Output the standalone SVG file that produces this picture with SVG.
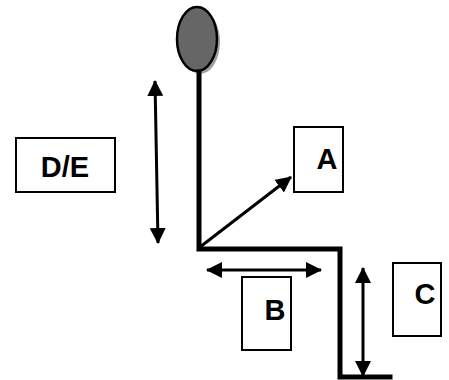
<svg xmlns="http://www.w3.org/2000/svg" width="449" height="380" viewBox="0 0 449 380">
  <style>
    .frame { fill: #fff; stroke: #000; stroke-width: 2; }
    .label { font-family: "Liberation Sans", Arial, sans-serif; font-weight: bold; font-size: 29px; fill: #000; text-anchor: middle; }
    .body { fill: none; stroke: #000; stroke-width: 5; stroke-linecap: square; stroke-linejoin: miter; }
    .arrow { fill: none; stroke: #000; stroke-width: 3; }
  </style>
  <defs>
    <marker id="head" markerUnits="userSpaceOnUse" markerWidth="16" markerHeight="16" viewBox="0 0 16 16" refX="15" refY="8" orient="auto-start-reverse">
      <path d="M0,0 L16,8 L0,16 Z" fill="#000"/>
    </marker>
  </defs>
  <rect width="449" height="380" fill="#fff"/>

  <!-- figure: head and bent body -->
  <g id="figure">
    <ellipse cx="200" cy="42" rx="20" ry="32" fill="#a0a0a0"/>
    <ellipse cx="197" cy="39" rx="20" ry="32" fill="#666" stroke="#000" stroke-width="2.5"/>
    <path class="body" d="M199,72 L199,249 L340,249 L340,377 L390,377"/>
  </g>

  <!-- dimension arrows -->
  <g id="connectors">
    <line class="arrow" x1="200" y1="247" x2="291" y2="177" marker-end="url(#head)"/>
    <line class="arrow" x1="155" y1="81" x2="158" y2="243" marker-start="url(#head)" marker-end="url(#head)"/>
    <line class="arrow" x1="207" y1="270" x2="321" y2="270" marker-start="url(#head)" marker-end="url(#head)"/>
    <line class="arrow" x1="363" y1="268" x2="363" y2="376" marker-start="url(#head)" marker-end="url(#head)"/>
  </g>

  <g id="box-de">
    <rect class="frame" x="16" y="138" width="99" height="54"/>
    <text class="label" x="65" y="177">D/E</text>
  </g>
  <g id="box-a">
    <rect class="frame" x="294" y="127" width="49" height="65"/>
    <text class="label" x="327" y="169">A</text>
  </g>
  <g id="box-b">
    <rect class="frame" x="242" y="277" width="49" height="73"/>
    <text class="label" x="275" y="320">B</text>
  </g>
  <g id="box-c">
    <rect class="frame" x="393" y="263" width="48" height="73"/>
    <text class="label" x="425" y="304">C</text>
  </g>
</svg>
